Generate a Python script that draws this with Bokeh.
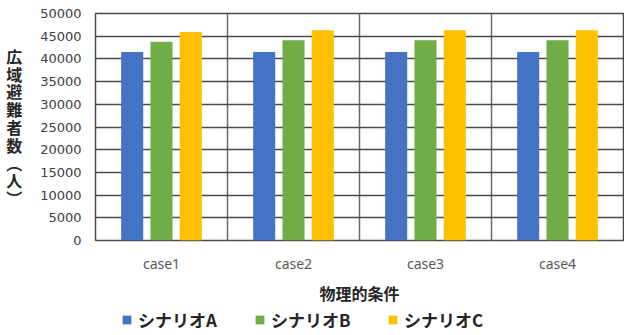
from bokeh.plotting import figure
from bokeh.models import ColumnDataSource, FixedTicker, Legend, LegendItem, Range1d
from bokeh.layouts import column
from bokeh.transform import dodge
from bokeh.embed import file_html
from bokeh.resources import INLINE

cases = ["case1", "case2", "case3", "case4"]
scenarios = ["シナリオA", "シナリオB", "シナリオC"]
scenario_a = [41500, 41500, 41500, 41500]
scenario_b = [43800, 44100, 44100, 44100]
scenario_c = [45900, 46300, 46300, 46300]
colors = ["#4472C4", "#70AD47", "#FFC000"]
y_ticks = [0, 5000, 10000, 15000, 20000, 25000, 30000, 35000, 40000, 45000, 50000]
y_title = "広域避難者数（人）"
x_title = "物理的条件"

xpos = [i + 0.5 for i in range(len(cases))]
src = ColumnDataSource(dict(x=xpos, a=scenario_a, b=scenario_b, c=scenario_c))

p = figure(width=624, height=307, x_range=Range1d(0, len(cases)), y_range=Range1d(0, 50000),
           output_backend="svg", toolbar_location=None,
           min_border_left=95, min_border_right=1, min_border_top=13, min_border_bottom=64)
p.background_fill_color = "white"
p.border_fill_color = "white"
p.outline_line_color = "#4a4a4a"
p.outline_line_width = 1.5

bw = 0.167
offs = [-0.222, 0.0, 0.222]
keys = ["a", "b", "c"]
for key, off, col in zip(keys, offs, colors):
    p.vbar(x=dodge("x", off, range=p.x_range), top=key, width=bw, bottom=0,
           source=src, fill_color=col, line_color=None)

# axes
p.xaxis.ticker = FixedTicker(ticks=xpos)
p.xaxis.major_label_overrides = {x: c for x, c in zip(xpos, cases)}
p.xaxis.axis_line_color = None
p.xaxis.major_tick_line_color = None
p.xaxis.minor_tick_line_color = None
p.xaxis.major_tick_out = 0
p.xaxis.major_tick_in = 0
p.xaxis.minor_tick_out = 0
p.xaxis.major_label_text_font = "Noto Sans"
p.xaxis.major_label_text_font_size = "14px"
p.xaxis.major_label_text_color = "#595959"
p.xaxis.major_label_standoff = 13
p.xaxis.axis_label = x_title
p.xaxis.axis_label_text_font = "Noto Sans CJK JP"
p.xaxis.axis_label_text_font_size = "16px"
p.xaxis.axis_label_text_font_style = "bold"
p.xaxis.axis_label_text_color = "#262626"
p.xaxis.axis_label_standoff = 5

p.yaxis.ticker = FixedTicker(ticks=y_ticks)
p.yaxis.axis_line_color = None
p.yaxis.major_tick_line_color = None
p.yaxis.minor_tick_line_color = None
p.yaxis.major_tick_out = 0
p.yaxis.major_tick_in = 0
p.yaxis.minor_tick_out = 0
p.yaxis.major_label_text_font = "DejaVu Sans"
p.yaxis.major_label_text_font_size = "13px"
p.yaxis.major_label_text_color = "#404040"
p.yaxis.major_label_standoff = 14

# vertical (stacked) y title
vt = y_title.replace("（", "︵").replace("）", "︶")
p.yaxis.axis_label = "\n".join(vt)
p.yaxis.axis_label_orientation = "horizontal"
p.yaxis.axis_label_text_font = "Noto Sans CJK JP"
p.yaxis.axis_label_text_font_size = "16px"
p.yaxis.axis_label_text_font_style = "bold"
p.yaxis.axis_label_text_color = "#262626"
p.yaxis.axis_label_text_line_height = 0.74
p.yaxis.axis_label_text_align = "center"
p.yaxis.axis_label_standoff = 15

# grid
p.ygrid.ticker = FixedTicker(ticks=y_ticks)
p.ygrid.grid_line_color = "#4a4a4a"
p.ygrid.grid_line_width = 1.5
p.xgrid.ticker = FixedTicker(ticks=[1, 2, 3])
p.xgrid.grid_line_color = "#6a6a6a"
p.xgrid.grid_line_width = 1.5

# legend strip below (its renderers carry the series but are hidden)
lg = figure(width=624, height=28, x_range=Range1d(0, len(cases)), y_range=Range1d(0, 50000),
            output_backend="svg", toolbar_location=None, x_axis_type=None, y_axis_type=None,
            min_border=0)
lg.outline_line_color = None
lg.border_fill_color = "white"
lg.background_fill_color = "white"
lg.xgrid.visible = False
lg.ygrid.visible = False
lrs = []
for key, col in zip(keys, colors):
    r = lg.vbar(x="x", top=key, width=0.1, source=src, fill_color=col, line_color=None)
    r.visible = False
    lrs.append(r)

legend = Legend(items=[LegendItem(label=s, renderers=[r]) for s, r in zip(scenarios, lrs)],
                orientation="horizontal", location=(26, 3))
legend.click_policy = "none"
legend.glyph_width = 11
legend.glyph_height = 11
legend.label_standoff = 6
legend.label_width = 100
legend.spacing = 16
legend.padding = 0
legend.margin = 0
legend.border_line_color = None
legend.background_fill_alpha = 0
legend.label_text_font = "Noto Sans CJK JP"
legend.label_text_font_size = "17px"
legend.label_text_font_style = "bold"
legend.label_text_color = "#262626"
lg.add_layout(legend)

layout = column(p, lg, spacing=0)
open("out.html", "w").write(file_html(layout, INLINE))
